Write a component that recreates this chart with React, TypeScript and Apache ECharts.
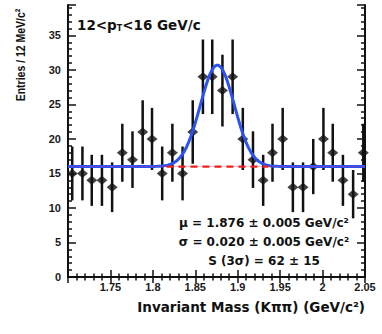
import React, { useEffect, useRef } from 'react';
import * as echarts from 'echarts';

// Bin centres (GeV/c^2) and entries
const massBins = [1.705, 1.717, 1.728, 1.740, 1.752, 1.764, 1.776, 1.788, 1.799, 1.811,
  1.823, 1.835, 1.847, 1.859, 1.870, 1.882, 1.894, 1.906, 1.918, 1.930,
  1.941, 1.953, 1.965, 1.977, 1.989, 2.001, 2.012, 2.024, 2.036, 2.048];
const entries = [15, 15, 14, 14, 13, 18, 17, 21, 20, 15,
  18, 15, 21, 29, 29, 27, 29, 20, 17, 14,
  18, 20, 13, 13, 16, 20, 18, 14, 12, 18];
const errors = [3.9, 3.9, 3.7, 3.7, 3.6, 4.2, 4.1, 4.6, 4.5, 3.9,
  4.2, 3.9, 4.6, 5.4, 5.4, 5.2, 5.4, 4.5, 4.1, 3.7,
  4.2, 4.5, 3.6, 3.6, 4.0, 4.5, 4.2, 3.7, 3.5, 4.2];

// Fit parameters (gaussian on flat background)
const fitMu = 1.876;
const fitSigma = 0.020;
const fitAmp = 14.7;
const fitBkg = 16.0;
const bkgRange = [1.816, 1.936];

const xMin = 1.70;
const xMax = 2.05;
const yMin = 0;
const yMax = 39.4;

const xTitle = 'Invariant Mass (Kππ) (GeV/c²)';
const yTitle = 'Entries / 12 MeV/c²';
const statLines = [
  'μ = 1.876 ± 0.005 GeV/c²',
  'σ = 0.020 ± 0.005 GeV/c²',
  'S (3σ) = 62 ± 15',
];

export default function App() {
  const ref = useRef<HTMLDivElement>(null);
  useEffect(() => {
    if (!ref.current) return;
    const chart = echarts.init(ref.current, null, { renderer: 'svg' });

    const fitCurve: number[][] = [];
    for (let x = xMin; x <= xMax + 1e-9; x += 0.0025) {
      const z = (x - fitMu) / fitSigma;
      fitCurve.push([x, fitBkg + fitAmp * Math.exp(-0.5 * z * z)]);
    }
    const bkgLine = [[bkgRange[0], fitBkg], [bkgRange[1], fitBkg]];
    const fullBkg = [[xMin, fitBkg], [xMax, fitBkg]];

    const points = massBins.map((x, i) => [x, entries[i]]);
    const bars = massBins.map((x, i) => [x, entries[i], errors[i]]);

    const axisColor = '#111';
    const labelFont = { fontFamily: 'Liberation Sans', fontWeight: 'bold' as const, fontSize: 11, color: '#1a1a1a' };
    const dv = 'DejaVu Sans';

    const xBase = {
      type: 'value' as const,
      min: xMin,
      max: xMax,
      interval: 0.05,
      splitLine: { show: false },
      axisLine: { show: true, lineStyle: { color: axisColor, width: 2 } },
      minorTick: { show: true, splitNumber: 5, length: 3.5, lineStyle: { color: axisColor, width: 1.5 } },
    };
    const yBase = {
      type: 'value' as const,
      min: yMin,
      max: yMax,
      interval: 5,
      splitLine: { show: false },
      axisLine: { show: true, lineStyle: { color: axisColor, width: 2 } },
      minorTick: { show: true, splitNumber: 5, length: 4, lineStyle: { color: axisColor, width: 1.5 } },
    };

    chart.setOption({
      animation: false,
      backgroundColor: '#fff',
      grid: { left: 68, right: 17, top: 5, bottom: 57, containLabel: false },
      xAxis: [
        {
          ...xBase,
          position: 'bottom',
          axisTick: { show: true, inside: true, length: 7, lineStyle: { color: axisColor, width: 1.5 } },
          axisLabel: {
            ...labelFont,
            margin: 4,
            showMinLabel: false,
            formatter: (v: number) => (Math.abs(v - xMin) < 1e-6 ? '' : String(Math.round(v * 100) / 100)),
          },
        },
        {
          ...xBase,
          position: 'top',
          axisTick: { show: true, inside: true, length: 6, lineStyle: { color: axisColor, width: 1.5 } },
          axisLabel: { show: false },
        },
      ],
      yAxis: [
        {
          ...yBase,
          position: 'left',
          axisTick: { show: true, inside: true, length: 8, lineStyle: { color: axisColor, width: 1.5 } },
          axisLabel: { ...labelFont, margin: 7, showMaxLabel: false },
        },
        {
          ...yBase,
          position: 'right',
          axisTick: { show: true, inside: true, length: 8, lineStyle: { color: axisColor, width: 1.5 } },
          axisLabel: { show: false },
        },
      ],
      series: [
        {
          type: 'custom',
          name: 'errors',
          xAxisIndex: 0,
          yAxisIndex: 0,
          z: 2,
          encode: { x: 0, y: 1 },
          data: bars,
          renderItem: (_p: any, api: any) => {
            const x = api.value(0);
            const y = api.value(1);
            const e = api.value(2);
            const top = api.coord([x, y + e]);
            const bot = api.coord([x, y - e]);
            return {
              type: 'line',
              shape: { x1: top[0], y1: top[1], x2: bot[0], y2: bot[1] },
              style: { stroke: '#111', lineWidth: 2.5 },
            };
          },
        },
        {
          type: 'scatter',
          name: 'data',
          z: 3,
          symbol: 'diamond',
          symbolSize: [11, 9],
          itemStyle: { color: '#111' },
          data: points,
        },
        {
          type: 'line',
          name: 'fit',
          z: 4,
          showSymbol: false,
          symbol: 'none',
          data: fitCurve,
          lineStyle: { color: '#2a52f5', width: 3 },
        },
        {
          type: 'line',
          name: 'bkgFull',
          z: 5,
          showSymbol: false,
          symbol: 'none',
          data: fullBkg,
          lineStyle: { color: '#e0306a', width: 1, opacity: 0.35 },
        },
        {
          type: 'line',
          name: 'bkg',
          z: 5,
          showSymbol: false,
          symbol: 'none',
          data: bkgLine,
          lineStyle: { color: '#f02020', width: 2.2, type: [7, 5] },
        },
      ],
      graphic: [
        {
          type: 'text',
          x: 77,
          y: 25,
          z: 10,
          style: {
            text: '{a|12<p}{s|T}{a|<16 GeV/c}',
            textVerticalAlign: 'middle',
            textAlign: 'left',
            rich: {
              a: { fontFamily: dv, fontWeight: 'bold', fontSize: 13.5, fill: '#111', color: '#111' },
              s: { fontFamily: dv, fontWeight: 'bold', fontSize: 8, fill: '#111', color: '#111', padding: [7, 0, 0, 0] },
            },
          },
        },
        ...statLines.map((t, i) => ({
          type: 'text',
          x: 264,
          y: 223 + i * 19,
          z: 10,
          style: {
            text: t,
            font: `bold 12px "${dv}"`,
            fill: '#111',
            textAlign: 'center',
            textVerticalAlign: 'middle',
          },
        })),
        {
          type: 'text',
          x: 365,
          y: 307,
          z: 10,
          style: {
            text: xTitle,
            font: `bold 13.5px "${dv}"`,
            fill: '#111',
            textAlign: 'right',
            textVerticalAlign: 'middle',
          },
        },
        {
          type: 'text',
          x: 21,
          y: 55,
          rotation: Math.PI / 2,
          scaleY: 1.3,
          z: 10,
          style: {
            text: yTitle,
            font: 'bold 10.5px "Liberation Sans"',
            fill: '#111',
            textAlign: 'center',
            textVerticalAlign: 'middle',
          },
        },
      ],
    });
    return () => chart.dispose();
  }, []);
  return (
    <div
      ref={ref}
      style={{ position: 'fixed', left: 0, top: 0, width: 382, height: 334, background: '#fff' }}
    />
  );
}
